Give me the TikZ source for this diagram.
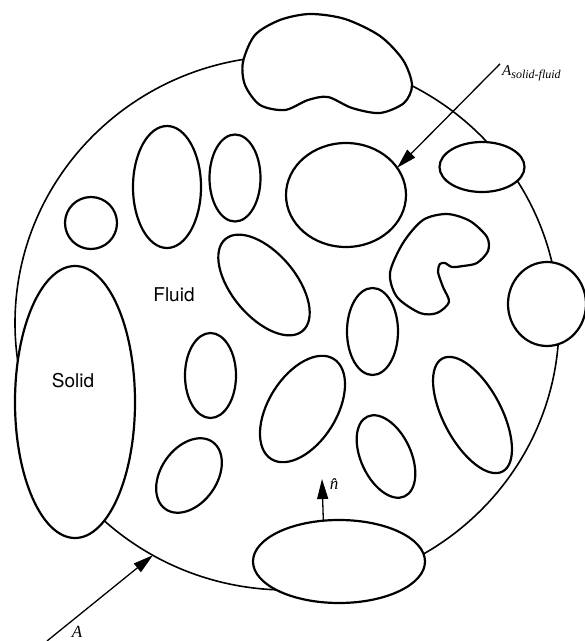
\documentclass[tikz,border=0pt]{standalone}
\usepackage{fontspec}
\setmainfont{Liberation Serif}
\setsansfont{TeX Gyre Heros}
\usetikzlibrary{arrows.meta, shapes.geometric}

\begin{document}
\begin{tikzpicture}[x=1pt, y=1pt,
    grain/.style={draw, ellipse, fill=white, line width=2.2pt, inner sep=0pt, outer sep=0pt},
    blob/.style={draw, fill=white, line width=2.2pt},
    pointer/.style={-{Triangle[length=20pt, width=11pt]}, line width=1.3pt},
    phase/.style={font=\sffamily\fontsize{19}{22}\selectfont},
    tag/.style={inner sep=0pt, font=\itshape\fontsize{17}{19}\selectfont}]
  \useasboundingbox (0,0) rectangle (585,641);

  % averaging volume
  \node[draw, ellipse, line width=1.6pt, inner sep=0pt, outer sep=0pt,
        minimum width=544pt, minimum height=534pt] (vol) at (287,318) {};

  % grains cut by the surface A
  \node[grain, minimum width=120pt, minimum height=272pt] (solid) at (75,239) {};
  \node[grain, minimum width=172pt, minimum height=83pt] (bottom) at (339,79.5) {};
  \node[grain, minimum width=78pt, minimum height=84pt] (right) at (547,337) {};
  \node[grain, minimum width=85pt, minimum height=50pt] (topright) at (482,474) {};
  \draw[blob] plot[smooth cycle] coordinates {(243,579) (255,606) (280,621) (310,627)
    (345,622) (380,605) (403,581) (412,556) (404,538) (380,528) (352,533) (328,544)
    (308,541) (285,531) (260,536) (245,556)};

  % grains inside
  \node[grain, minimum width=52pt, minimum height=52pt] (round) at (91,418) {};
  \node[grain, minimum width=68pt, minimum height=122pt] (tall) at (167,454) {};
  \node[grain, minimum width=51pt, minimum height=87pt] (slim) at (235,463) {};
  \node[grain, minimum width=120pt, minimum height=104pt] (pore) at (346,446) {};
  \node[grain, minimum width=120pt, minimum height=64pt, rotate=-50] (tiltA) at (264,356) {};
  \node[grain, minimum width=51pt, minimum height=85pt] (midA) at (210.5,265.5) {};
  \node[grain, minimum width=51pt, minimum height=87pt] (midB) at (372.5,309.5) {};
  \node[grain, minimum width=118pt, minimum height=68pt, rotate=58] (tiltB) at (302.5,232) {};
  \node[grain, minimum width=88pt, minimum height=50pt, rotate=-65] (tiltC) at (386,184.5) {};
  \node[grain, minimum width=82pt, minimum height=56pt, rotate=55] (tiltD) at (189,165.5) {};
  \node[grain, minimum width=128pt, minimum height=58pt, rotate=-62] (tiltE) at (472.5,226) {};
  \draw[blob] plot[smooth cycle] coordinates {(447,427) (470,420) (487,404) (488,390)
    (477,378) (463,375) (452,374) (445,378) (440,377) (438,369) (443,354) (449,339)
    (437,328) (420,328) (397,344) (390,368) (403,398) (423,421)};

  % phases
  \node[phase] (fluid) at (174,346) {Fluid};
  \node[phase] (solidtxt) at (73,260) {Solid};

  % labels and pointers
  \node[tag, anchor=base west, inner sep=2pt] (lblSF) at (500,565)
    {\fontsize{15}{17}\selectfont A\raisebox{-2.5pt}{\fontsize{12}{14}\selectfont solid-fluid}};
  \draw[pointer] (lblSF.north west) -- (pore.28);

  \coordinate (aFoot) at (47,0);
  \node[tag, anchor=base] (lblA) at (77,3.5) {A};
  \draw[pointer] (aFoot) -- (vol.240);

  \coordinate (nTip) at (322,162);
  \node[tag] (nlab) at (334,157) {\^n};
  \draw[pointer] (bottom.111) -- (nTip);
\end{tikzpicture}
\end{document}
